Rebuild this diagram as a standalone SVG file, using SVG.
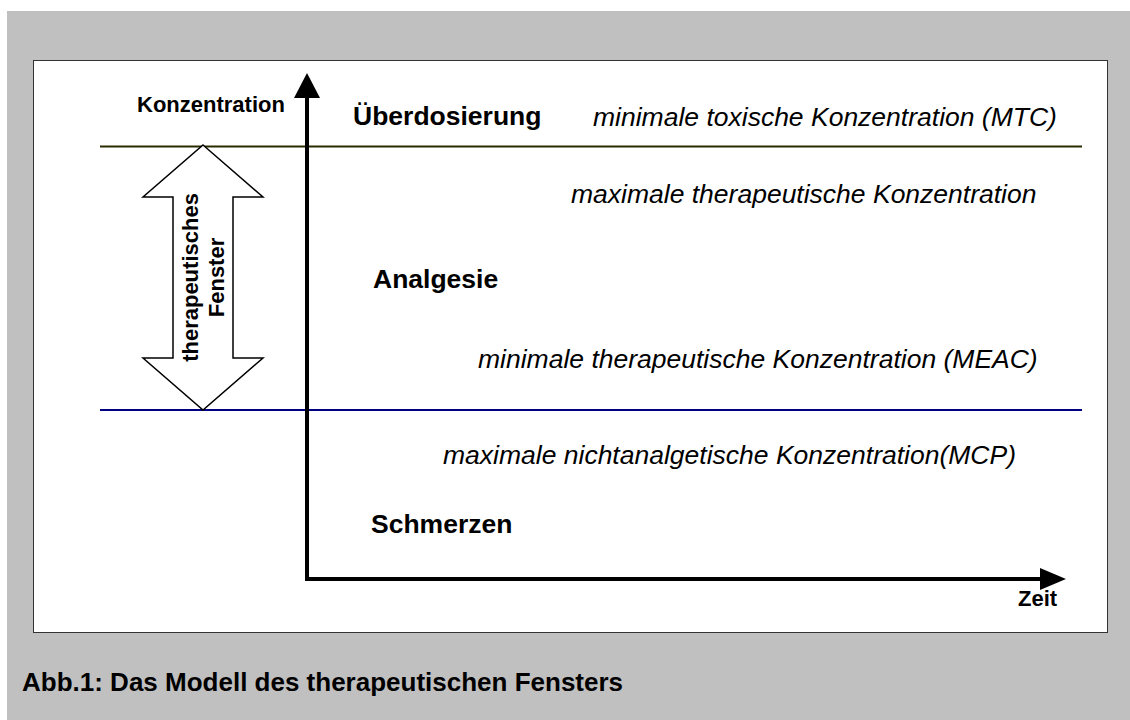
<svg xmlns="http://www.w3.org/2000/svg" width="1130" height="720" viewBox="0 0 1130 720">
<style>
.b{font-family:"Liberation Sans",Arial,sans-serif;font-weight:bold;fill:#000}
.i{font-family:"Liberation Sans",Arial,sans-serif;font-style:italic;fill:#000;font-size:26.5px}
.big{font-size:26.5px}
.sm{font-size:22px}
</style>
<rect x="0" y="0" width="1130" height="720" fill="#fff"/>
<rect x="7" y="11" width="1123" height="709" fill="#c0c0c0"/>
<rect x="33.5" y="60.5" width="1074" height="572" fill="#fff" stroke="#333" stroke-width="1"/>
<g id="connectors">
<line x1="100" y1="146.5" x2="1082" y2="146.5" stroke="#2a2a00" stroke-width="2"/>
<line x1="100" y1="410" x2="1082" y2="410" stroke="#000080" stroke-width="2"/>
<g id="window-arrow">
<polygon points="203,145 263,197 233,197 233,358 263,358 203,410 143,358 173,358 173,197 143,197" fill="#fff" stroke="#000" stroke-width="1.5"/>
<text class="b sm" transform="translate(198,277.5) rotate(-90)" text-anchor="middle">therapeutisches</text>
<text class="b sm" transform="translate(224,277.5) rotate(-90)" text-anchor="middle">Fenster</text>
</g>
<line x1="307" y1="96" x2="307" y2="581" stroke="#000" stroke-width="4"/>
<polygon points="307,73 320,98 294,98" fill="#000"/>
<line x1="305" y1="579" x2="1042" y2="579" stroke="#000" stroke-width="4"/>
<polygon points="1066,579 1040,568 1040,590" fill="#000"/>
</g>
<g id="labels">
<text class="b sm" x="137" y="112">Konzentration</text>
<text class="b sm" x="1018" y="606">Zeit</text>
<text class="b big" x="353" y="125">Überdosierung</text>
<text class="i" x="593" y="126">minimale toxische Konzentration (MTC)</text>
<text class="i" x="571" y="203">maximale therapeutische Konzentration</text>
<text class="b big" x="373" y="288">Analgesie</text>
<text class="i" x="478" y="368">minimale therapeutische Konzentration (MEAC)</text>
<text class="i" x="443" y="464">maximale nichtanalgetische Konzentration(MCP)</text>
<text class="b big" x="371" y="533">Schmerzen</text>
</g>
<text class="b" font-size="26" x="22" y="691">Abb.1: Das Modell des therapeutischen Fensters</text>
</svg>
